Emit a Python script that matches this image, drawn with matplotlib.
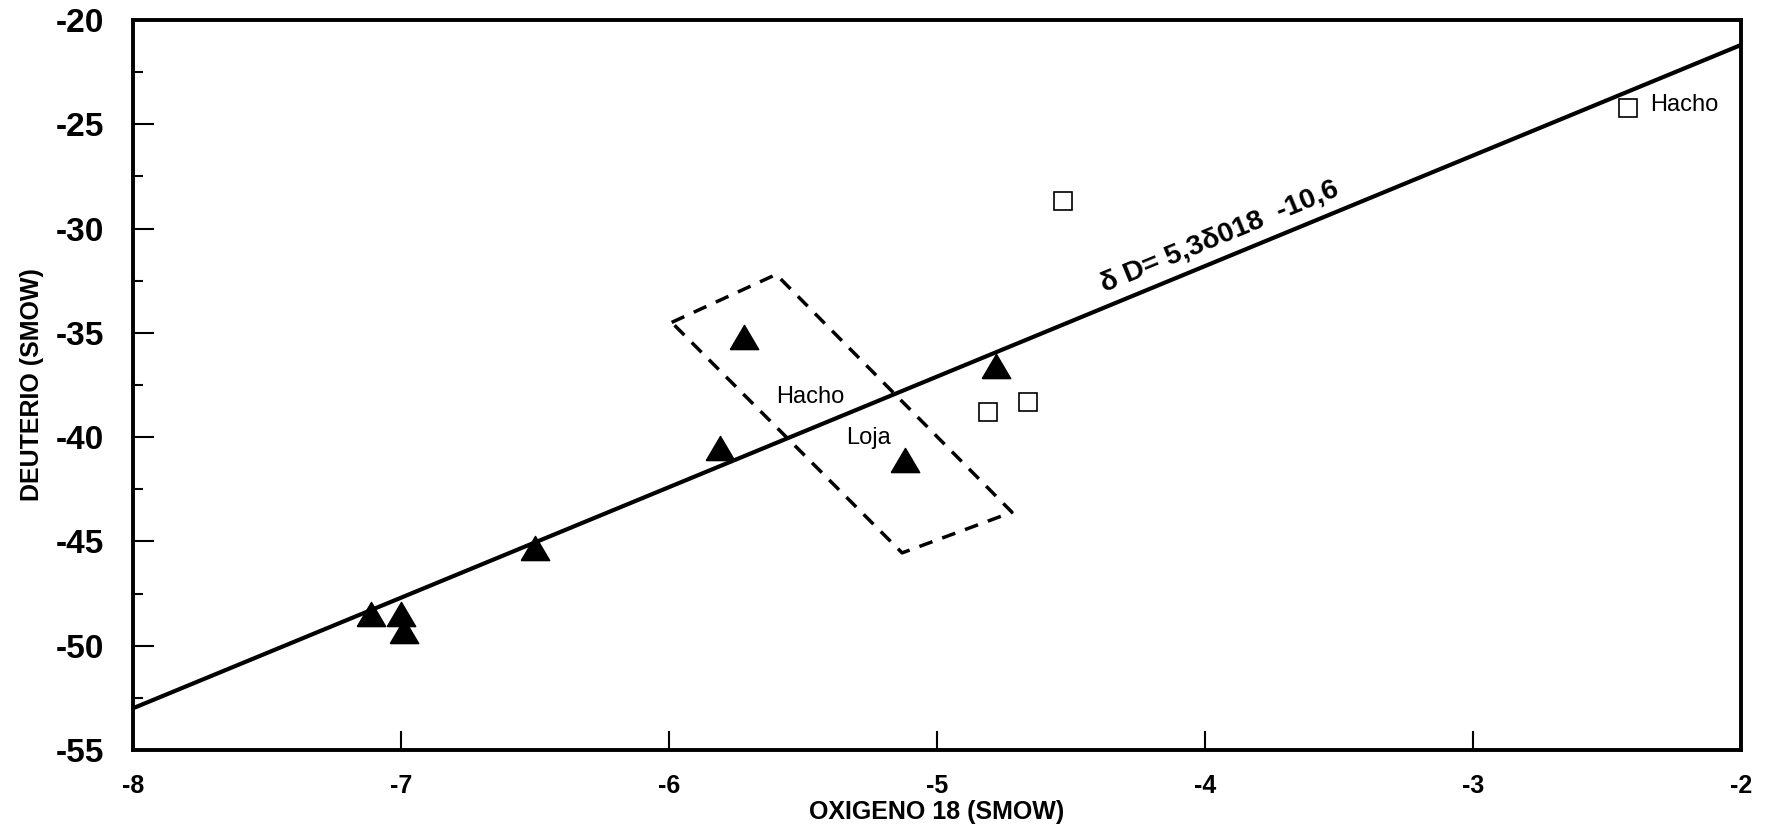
import numpy as np
import matplotlib
matplotlib.use("Agg")
import matplotlib.pyplot as plt
from matplotlib.ticker import MultipleLocator

plt.rcParams['font.family'] = ['Liberation Sans', 'DejaVu Sans']
plt.rcParams['axes.unicode_minus'] = False

# agua subterranea (triangulos) y Hacho (cuadrados)
o18_tri = [-7.11, -7.00, -6.99, -6.50, -5.72, -5.81, -5.12, -4.78]
dd_tri = [-48.5, -48.5, -49.3, -45.3, -35.2, -40.5, -41.1, -36.6]
o18_sq = [-4.81, -4.66, -4.53, -2.42]
dd_sq = [-38.8, -38.3, -28.7, -24.2]

# recta de regresion dD = 5.3 d18O - 10.6
pend, ordo = 5.3, -10.6
x_recta = [-8, -2]

# zona Hacho / Loja
caja_x = [-5.99, -5.60, -4.72, -5.13, -5.99]
caja_y = [-34.5, -32.2, -43.6, -45.55, -34.5]

fig = plt.figure(figsize=(17.66, 8.39), dpi=100)
ax = fig.add_axes([0.0753, 0.1061, 0.9105, 0.8701])

ax.plot(x_recta, [pend * v + ordo for v in x_recta], color='black', lw=3.0, zorder=2)
ax.plot(caja_x, caja_y, color='black', lw=2.5, dashes=(4, 3), zorder=2)

tri = [(-1, -0.85), (1, -0.85), (0, 0.85), (-1, -0.85)]
ax.plot(o18_tri, dd_tri, linestyle='none', marker=tri, ms=20.5,
        color='black', zorder=3)
ax.plot(o18_sq, dd_sq, linestyle='none', marker='s', ms=13.5,
        mfc='white', mec='black', mew=1.2, zorder=3)

ax.text(-5.474, -38.07, 'Hacho', fontsize=17, ha='center', va='center')
ax.text(-5.257, -40.04, 'Loja', fontsize=17, ha='center', va='center')
ax.text(-2.34, -24.07, 'Hacho', fontsize=17, ha='left', va='center')

ang = np.degrees(np.arctan(pend))
ax.text(-3.944, -30.4, 'δ D= 5,3δ018  -10,6', fontsize=20.5, fontweight='bold',
        ha='center', va='center', rotation=ang,
        rotation_mode='anchor', transform_rotates_text=True)

ax.set_xlim(-8, -2)
ax.set_ylim(-55, -20)
ax.xaxis.set_major_locator(MultipleLocator(1))
ax.yaxis.set_major_locator(MultipleLocator(5))
ax.yaxis.set_minor_locator(MultipleLocator(2.5))

ax.tick_params(axis='both', which='both', direction='in', top=False, right=False,
               width=1.5, color='black')
ax.tick_params(axis='y', which='major', length=15, pad=21, labelsize=24)
ax.tick_params(axis='y', which='minor', length=7.5)
ax.tick_params(axis='x', which='major', length=14, pad=17, labelsize=18)
for lab in ax.get_xticklabels() + ax.get_yticklabels():
    lab.set_fontweight('bold')

for sp in ax.spines.values():
    sp.set_linewidth(2.8)

ax.set_xlabel('OXIGENO 18 (SMOW)', fontsize=18, fontweight='bold', labelpad=2)
ax.set_ylabel('DEUTERIO (SMOW)', fontsize=18, fontweight='bold', labelpad=8)

fig.savefig('out.png', dpi=100)
